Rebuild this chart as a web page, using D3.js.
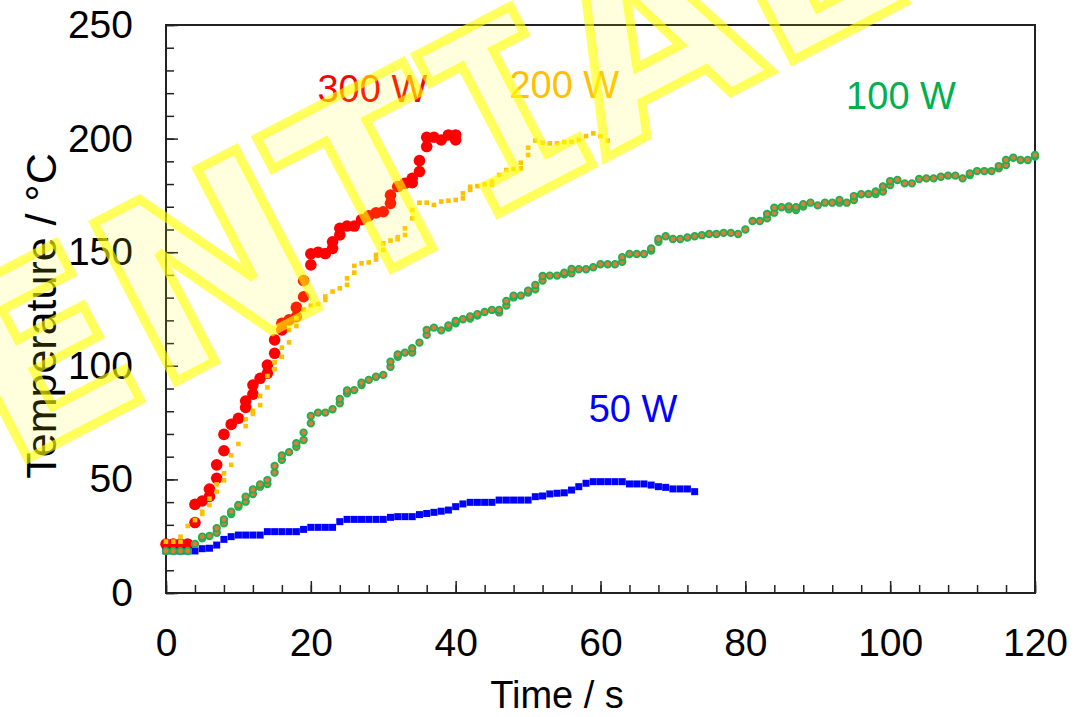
<!DOCTYPE html>
<html>
<head>
<meta charset="utf-8">
<script src="https://cdn.jsdelivr.net/npm/d3@7"></script>
<style>
  body { margin: 0; background: #fff; }
  text { font-family: "Liberation Sans", Arial, sans-serif; }
</style>
</head>
<body>
<div id="chart-area"></div>
<script>
// data: [time s, temperature C]
var s300 = [[0,21.5],[1,21.5],[2,21.5],[3,21.5],[4,31],[4,39],[5,40.5],[6,42.5],[6,45.7],[7,50.5],[7,56.4],
  [8,62.6],[8,69.8],[9,74.2],[10,76.9],[11,81.7],[11,84.5],[12,87.5],[12,91.5],[13,94.5],[14,96.7],[14,100.3],
  [15,105.5],[15,111.4],[16,115.8],[16,118.7],[17,120.2],[18,121.6],[18,125.7],[19,130.4],[19,137.5],
  [20,144.4],[20,149.3],[21,150],[22,149.4],[23,151.7],[23,154.6],[24,157.6],[24,160.5],[25,161.5],[26,161.5],
  [27,164.3],[28,166],[29,167.3],[30,167.8],[31,171.5],[31,175.1],[32,178.9],[33,180.3],[34,180.6],[34,182.5],
  [35,185.5],[35,190.3],[36,196.5],[36,200.6],[37,200.6],[38,199.4],[39,201.6],[40,201.6],[40,199.4]];

var s200 = [[0,22.6],[1,22.6],[2,22.6],[2,24.8],[3,29.5],[4,32.1],[5,34.8],[5,35.8],[6,38.7],[6,41.5],
  [7,44.6],[7,47.8],[8,49.6],[8,52.7],[9,56.4],[9,60.6],[10,65.6],[11,73.5],[11,76.5],[12,78.8],[12,80.2],
  [13,82.7],[13,86.7],[14,90.5],[14,95.5],[15,98.5],[15,101.5],[16,104],[16,108],[17,110.3],[17,115.8],
  [18,117.5],[18,121],[19,124.8],[20,126.5],[21,127.2],[22,129],[22,130.5],[23,132.7],[24,134.1],[25,135.6],
  [25,138.5],[26,141],[26,144],[27,145.1],[28,145.5],[29,146.8],[29,148.8],[30,151],[30,153.9],[31,155.1],
  [32,155.7],[32,156.6],[33,157.6],[33,160.5],[34,164.9],[34,168.6],[35,171.8],[36,171.8],[37,170.8],
  [38,172.3],[39,172.7],[40,173],[41,173.7],[41,175.9],[42,177.4],[42,178.8],[43,179.1],[44,179.9],
  [45,179.6],[45,181],[46,184],[47,186.2],[48,186.6],[49,186.9],[49,189.4],[50,192.8],[50,196],[51,199.1],
  [52,198.2],[53,197.9],[54,197.9],[55,198.5],[56,198.5],[57,199.4],[58,201.1],[59,202.3],[60,201.1],[61,199.1]];

var s100 = [[0,18.5],[1,18.5],[2,18.5],[3,18.5],[4,21.6],[5,24.1],[5,24.8],[6,25.1],[7,26.5],[7,28.5],
  [8,30.7],[8,32.4],[9,34.8],[9,35.8],[10,38],[10,38.7],[11,40.2],[11,42.4],[12,43.6],[12,45.6],[13,46.8],
  [13,47.8],[14,48],[14,49.7],[15,53],[15,55.9],[16,58.6],[16,60.5],[17,62],[18,64.4],[18,65.9],[19,67.3],
  [19,70.6],[20,74.7],[20,77.9],[21,79.4],[22,79.4],[23,80.9],[24,83.5],[24,85.4],[25,87.9],[25,89.1],
  [26,89.3],[27,91.5],[27,92.6],[28,93.8],[29,95.2],[30,96],[31,99.6],[31,101.8],[32,104],[32,105],
  [33,105.8],[34,105.8],[34,107.7],[35,110.2],[36,113.6],[36,115.8],[37,116.8],[38,115.6],[39,116.8],
  [39,117.8],[40,118.7],[40,119.7],[41,120.5],[42,120.8],[42,121.7],[43,122.1],[43,122.7],[44,123.7],
  [45,124.6],[46,123.5],[46,124.6],[47,126.5],[47,128.5],[48,130.1],[48,130.9],[49,130.9],[50,132.2],
  [50,133.1],[51,133.7],[51,135.6],[52,137.5],[52,139.5],[53,139.7],[54,139.7],[55,140.3],[55,141],
  [56,140.7],[56,142.6],[57,142.5],[58,142.5],[59,143.4],[60,144.7],[61,144.7],[62,144.7],[63,145.8],
  [63,147.8],[64,149.2],[65,149.2],[66,149.2],[67,150.7],[67,151.6],[68,154.6],[68,155.8],[69,157],
  [70,155.8],[71,155.8],[72,156.5],[73,157],[74,157.5],[75,158],[76,158],[77,158.5],[78,158.5],[79,158],
  [80,160],[81,163.7],[82,163.7],[83,164.9],[83,166.8],[84,167.4],[84,169.6],[85,169.8],[86,168.9],
  [86,170.1],[87,168.6],[87,169.8],[88,170.1],[88,171.1],[89,171.8],[90,170.6],[91,171.8],[92,171.8],
  [93,171.8],[93,173],[94,171.8],[95,173],[95,174.7],[96,175.5],[97,175.6],[98,175.6],[98,176.7],
  [99,176.7],[99,178.9],[100,179.6],[100,181.3],[101,181.8],[102,180.3],[103,180.3],[104,182.2],
  [105,182.5],[106,182.5],[107,183.2],[108,183.7],[109,183.7],[110,182.5],[111,184],[111,184.7],
  [112,185.7],[113,185.7],[114,185.7],[115,186.9],[115,187.9],[116,188.4],[116,190.6],[117,191.6],
  [118,190.6],[119,190.6],[120,192.1],[120,192.8]];

var s50 = [[0,18.5],[1,18.5],[2,18.5],[3,18.5],[4,18.5],[5,19.5],[6,19.7],[7,21.1],[8,23.6],[9,24.8],
  [10,25.5],[11,25.5],[12,25.5],[13,25.5],[14,27],[15,27],[16,27],[17,27],[18,27],[19,28],[20,28.9],
  [21,28.9],[22,28.9],[23,28.9],[24,31.4],[25,32.4],[26,32.4],[27,32.4],[28,32.4],[29,32.4],[30,32.4],
  [31,33.3],[32,33.6],[33,33.6],[34,33.6],[35,34.5],[36,35],[37,35.5],[38,36],[39,36.5],[40,38],
  [41,39.2],[42,39.9],[43,39.9],[44,39.9],[45,39.9],[46,40.9],[47,40.9],[48,40.9],[49,40.9],[50,40.9],
  [51,42.4],[52,42.7],[53,43.6],[54,43.9],[55,44.1],[56,45.3],[57,46.8],[58,48.3],[59,49],[60,49],
  [61,49],[62,49],[63,49],[64,48],[65,48],[66,48],[67,47.5],[68,46.8],[69,46.5],[70,45.8],[71,45.8],
  [72,45.8],[73,44.6]];

var seriesNames = ['300 W', '200 W', '100 W', '50 W'];
var labelPos = [[28.5, 222], [55, 224], [101.5, 219], [64.5, 81.5]];   // label centre in data units
var xTicks = [0, 20, 40, 60, 80, 100, 120];
var yTicks = [0, 50, 100, 150, 200, 250];
var wmText = 'ENTIAL';   // visible part of the CONFIDENTIAL stamp

var margin = { top: 25, right: 56, bottom: 124, left: 166 };
var width = 1091 - margin.left - margin.right;
var height = 717 - margin.top - margin.bottom;

var svg = d3.select('#chart-area')
  .append('svg')
    .attr('width', 1091)
    .attr('height', 717);
var g = svg.append('g')
    .attr('transform', 'translate(' + margin.left + ',' + margin.top + ')');

var x = d3.scaleLinear().domain([0, 120]).range([0, width]);
var y = d3.scaleLinear().domain([0, 250]).range([height, 0]);

// minor ticks
g.append('g')
  .attr('transform', 'translate(0,' + height + ')')
  .call(d3.axisBottom(x).tickValues(d3.range(0, 121, 4)).tickSizeInner(-8).tickSizeOuter(0).tickFormat(''))
  .call(function (a) { a.select('.domain').remove(); });
g.append('g')
  .call(d3.axisLeft(y).tickValues(d3.range(0, 251, 10)).tickSizeInner(-8).tickSizeOuter(0).tickFormat(''))
  .call(function (a) { a.select('.domain').remove(); });

// major ticks + labels
g.append('g')
  .attr('class', 'x axis')
  .attr('transform', 'translate(0,' + height + ')')
  .call(d3.axisBottom(x).tickValues(xTicks).tickSizeInner(-12).tickSizeOuter(0).tickPadding(35))
  .call(function (a) { a.select('.domain').remove(); });
g.append('g')
  .attr('class', 'y axis')
  .call(d3.axisLeft(y).tickValues(yTicks).tickSizeInner(-12).tickSizeOuter(0).tickPadding(33))
  .call(function (a) { a.select('.domain').remove(); });

g.selectAll('.tick line').attr('stroke', '#222').attr('stroke-width', 1.5);
g.selectAll('.axis text')
  .attr('font-size', '39px')
  .attr('fill', '#000')
  .style('font-family', '"Liberation Sans", Arial, sans-serif');

// frame
g.append('rect')
  .attr('width', width)
  .attr('height', height)
  .attr('fill', 'none')
  .attr('stroke', '#222')
  .attr('stroke-width', 2);

// axis titles
svg.append('text')
  .attr('x', 557)
  .attr('y', 708)
  .attr('text-anchor', 'middle')
  .attr('font-size', '38px')
  .text('Time / s');
svg.append('text')
  .attr('transform', 'translate(56,316) rotate(-90)')
  .attr('text-anchor', 'middle')
  .attr('font-size', '43px')
  .text('Temperature / °C');

// series
g.selectAll('.p300').data(s300).enter().append('circle')
  .attr('cx', function (d) { return x(d[0]); })
  .attr('cy', function (d) { return y(d[1]); })
  .attr('r', 5.8)
  .attr('fill', '#ff0000');

g.selectAll('.p200').data(s200).enter().append('rect')
  .attr('x', function (d) { return x(d[0]) - 2.3; })
  .attr('y', function (d) { return y(d[1]) - 2.3; })
  .attr('width', 4.6)
  .attr('height', 4.6)
  .attr('fill', '#ffc000');

g.selectAll('.p50').data(s50).enter().append('rect')
  .attr('x', function (d) { return x(d[0]) - 3.5; })
  .attr('y', function (d) { return y(d[1]) - 3.5; })
  .attr('width', 7)
  .attr('height', 7)
  .attr('fill', '#0000ff');

g.selectAll('.p100').data(s100).enter().append('circle')
  .attr('cx', function (d) { return x(d[0]); })
  .attr('cy', function (d) { return y(d[1]); })
  .attr('r', 3.3)
  .attr('fill', '#e07b39')
  .attr('stroke', '#20b050')
  .attr('stroke-width', 1.8);

// series labels
var labelColors = ['#ff0000', '#ffc000', '#00b050', '#0000ff'];
g.selectAll('.slabel').data(seriesNames).enter().append('text')
  .attr('x', function (d, i) { return x(labelPos[i][0]); })
  .attr('y', function (d, i) { return y(labelPos[i][1]); })
  .attr('dy', '0.36em')
  .attr('text-anchor', 'middle')
  .attr('font-size', '38px')
  .attr('fill', function (d, i) { return labelColors[i]; })
  .text(function (d) { return d; });

// watermark on top
var adv = { N: .837, E: .683, T: .682, I: .545, A: .774, L: .637 };
var fs = 245;
var wm = svg.append('g')
  .attr('transform', 'translate(8,469) rotate(-27.5)')
  .attr('fill', 'rgba(255,255,0,0.13)')
  .attr('stroke', 'rgba(255,255,0,0.62)')
  .attr('stroke-width', 9)
  .attr('stroke-linejoin', 'miter');
var pos = 0;
wmText.split('').forEach(function (ch) {
  var w = adv[ch] * fs;
  wm.append('text')
    .attr('x', pos + w / 2)
    .attr('y', 0)
    .attr('text-anchor', 'middle')
    .attr('font-size', fs + 'px')
    .attr('font-weight', 'bold')
    .style('font-family', ch === 'I' ? '"DejaVu Sans Mono", monospace' : '"DejaVu Sans", sans-serif')
    .text(ch);
  pos += w;
});
</script>
</body>
</html>
